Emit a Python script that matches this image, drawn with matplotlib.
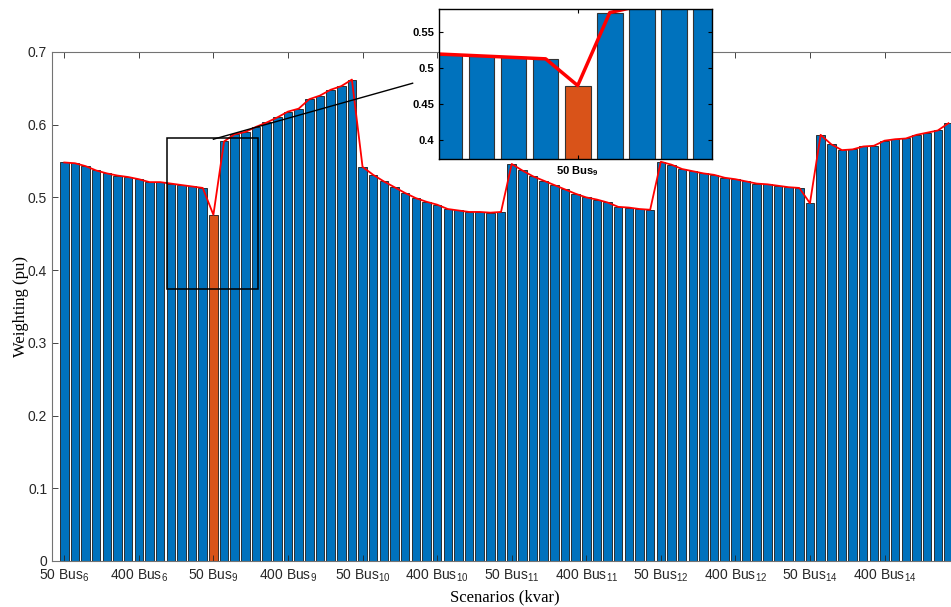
import numpy as np
import matplotlib
matplotlib.use("Agg")
import matplotlib.pyplot as plt
from matplotlib.patches import Rectangle

plt.rcParams['font.family'] = ['Liberation Sans', 'DejaVu Sans']
plt.rcParams['mathtext.default'] = 'regular'

# weighting per scenario, 14 steps (50..700 kvar) for each bus
buses = [6, 9, 10, 11, 12, 14]
weights = [
    0.548, 0.547, 0.543, 0.537, 0.533, 0.530, 0.528, 0.525, 0.521, 0.521, 0.519, 0.517, 0.515, 0.513,
    0.476, 0.577, 0.587, 0.590, 0.597, 0.603, 0.610, 0.618, 0.622, 0.635, 0.640, 0.648, 0.653, 0.662,
    0.542, 0.531, 0.522, 0.514, 0.506, 0.499, 0.494, 0.490, 0.484, 0.482, 0.480, 0.480, 0.479, 0.480,
    0.546, 0.537, 0.529, 0.523, 0.517, 0.511, 0.505, 0.500, 0.497, 0.493, 0.487, 0.486, 0.484, 0.483,
    0.549, 0.545, 0.539, 0.536, 0.533, 0.531, 0.527, 0.525, 0.522, 0.519, 0.518, 0.516, 0.514, 0.513,
    0.492, 0.586, 0.573, 0.565, 0.566, 0.570, 0.571, 0.578, 0.580, 0.581, 0.586, 0.589, 0.592, 0.602,
]
best_idx = 14  # 50 kvar at bus 9 (lowest)
tick_labels = []
for b in buses:
    tick_labels += ["50 Bus$_{%d}$" % b, "400 Bus$_{%d}$" % b]

BLUE = "#0072BD"
ORANGE = "#D95319"

x = np.arange(len(weights))
colors = [ORANGE if i == best_idx else BLUE for i in x]

fig = plt.figure(figsize=(9.51, 6.07), dpi=100)
ax = fig.add_axes([0.0547, 0.0758, 0.9527, 0.8386])

ax.bar(x, weights, width=0.8, color=colors, edgecolor="#1a1a1a", linewidth=0.6)
ax.plot(x, weights, color="red", linewidth=1.3)

ax.set_xlim(-1.15, 83.9)
ax.set_ylim(0, 0.7)
ax.set_yticks(np.arange(0, 0.71, 0.1))
ax.set_yticklabels(["0", "0.1", "0.2", "0.3", "0.4", "0.5", "0.6", "0.7"])
ax.set_xticks(np.arange(0, len(weights), 7))
ax.set_xticklabels(tick_labels)
ax.tick_params(direction="in", top=True, right=True, length=4, labelsize=10,
               colors="#262626", width=0.6)
ax.tick_params(axis="x", pad=5)
for s in ax.spines.values():
    s.set_color("0.45")
    s.set_linewidth(0.8)
ax.set_xlabel("Scenarios (kvar)", family="Liberation Serif", fontsize=12, labelpad=4)
ax.set_ylabel("Weighting (pu)", family="Liberation Serif", fontsize=12, labelpad=-1)

# zoom box and connector
x0, x1 = 9.68, 18.2
y0, y1 = 0.374, 0.582
ax.add_patch(Rectangle((x0, y0), x1 - x0, y1 - y0, fill=False, edgecolor="black",
                       linewidth=1.1, zorder=5))
ax.plot([best_idx, 32.7], [0.58, 0.657], color="black", linewidth=1.0, zorder=5)

# inset
axi = fig.add_axes([0.4619, 0.7376, 0.2871, 0.2476])
axi.bar(x, weights, width=0.8, color=colors, edgecolor="#333333", linewidth=0.8)
axi.plot(x, weights, color="red", linewidth=2.5)
axi.set_xlim(x0, x1)
axi.set_ylim(y0, y1)
axi.set_yticks([0.4, 0.45, 0.5, 0.55])
axi.set_yticklabels(["0.4", "0.45", "0.5", "0.55"], fontweight="bold")
axi.set_xticks([best_idx])
axi.set_xticklabels(["50 Bus$_{9}$"], fontweight="bold")
axi.tick_params(direction="in", top=True, right=True, length=3, labelsize=8, width=0.8)
for s in axi.spines.values():
    s.set_linewidth(1.0)

fig.savefig("out.png", dpi=100)
